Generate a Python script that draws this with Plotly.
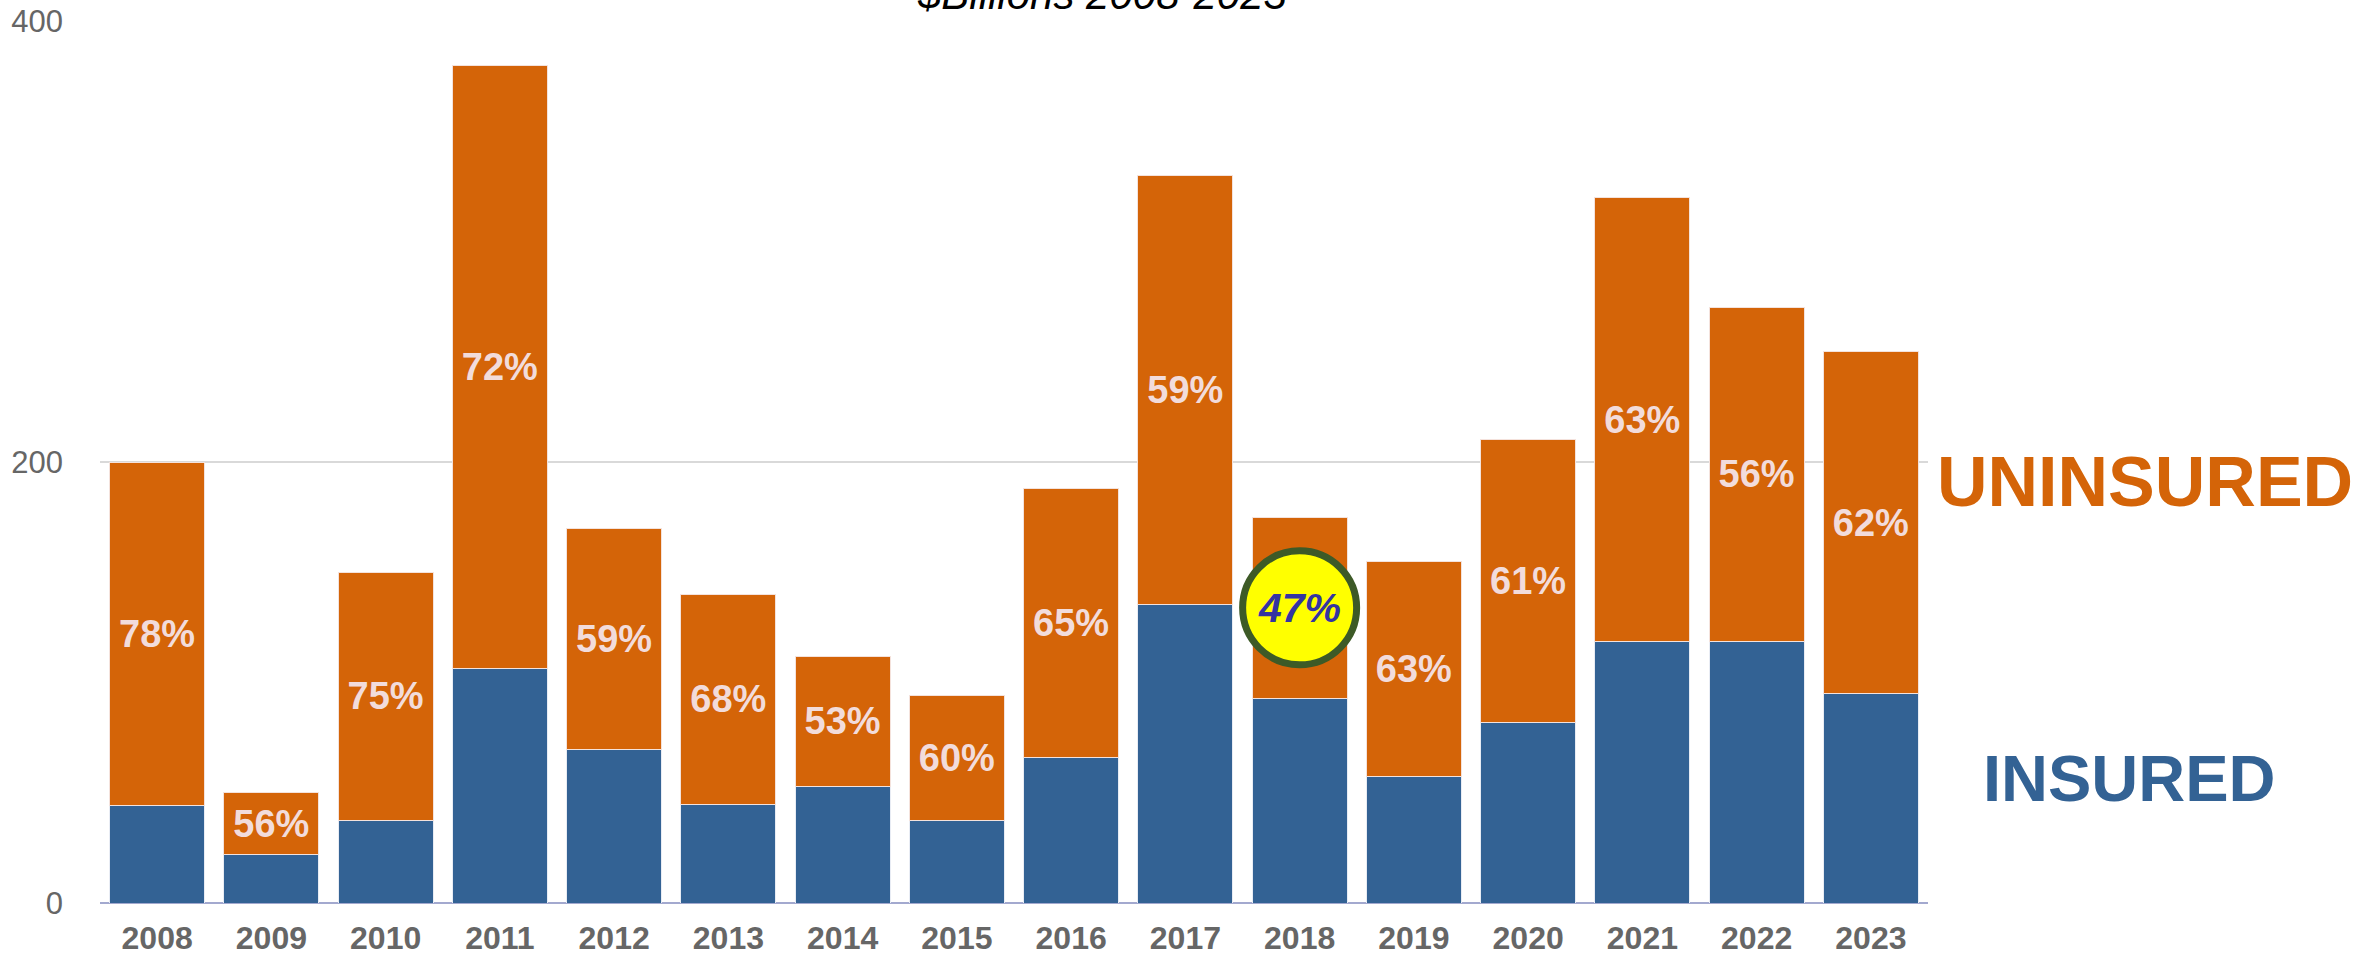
import plotly.graph_objects as go

years = ["2008", "2009", "2010", "2011", "2012", "2013", "2014", "2015",
         "2016", "2017", "2018", "2019", "2020", "2021", "2022", "2023"]
# Total economic losses, $ billions
total_losses = [200, 50, 150, 380, 170, 140, 112, 94,
                188, 330, 175, 155, 210, 320, 270, 250]
# Share of losses that was uninsured, %
uninsured_pct = [78, 56, 75, 72, 59, 68, 53, 60,
                 65, 59, 47, 63, 61, 63, 56, 62]
highlight_year = "2018"

insured = [t * (100 - p) / 100 for t, p in zip(total_losses, uninsured_pct)]
uninsured = [t * p / 100 for t, p in zip(total_losses, uninsured_pct)]

ORANGE = "#D46408"
BLUE = "#336294"
LABEL = "#F2DCDB"
FONT = "Liberation Sans, Arial, sans-serif"

bar_text = ["" if y == highlight_year else f"{p}%" for y, p in zip(years, uninsured_pct)]

fig = go.Figure()
fig.add_trace(go.Bar(
    x=years, y=insured, name="INSURED",
    marker=dict(color=BLUE, line=dict(color="#E8ECF4", width=1)),
    hoverinfo="skip",
))
fig.add_trace(go.Bar(
    x=years, y=uninsured, name="UNINSURED",
    marker=dict(color=ORANGE, line=dict(color="#F4E2DC", width=1)),
    text=bar_text, textposition="inside", insidetextanchor="middle",
    textangle=0, constraintext="none",
    textfont=dict(family=FONT, size=38, color=LABEL, weight="bold"),
    hoverinfo="skip",
))

# Highlight badge for the lowest uninsured share
hi = years.index(highlight_year)
badge_y = insured[hi] + uninsured[hi] / 2
fig.add_shape(
    type="circle", xref="x", yref="y",
    xsizemode="pixel", ysizemode="pixel",
    xanchor=hi, yanchor=badge_y,
    x0=-57, x1=57, y0=-57, y1=57,
    fillcolor="#FFFF00", line=dict(color="#3D5A27", width=7),
    layer="above",
)
fig.add_annotation(
    x=hi, y=badge_y, xref="x", yref="y",
    text=f"<b><i>{uninsured_pct[hi]}%</i></b>", showarrow=False,
    font=dict(family=FONT, size=41, color="#3434A2"),
    xanchor="center", yanchor="middle",
)

# Title (sits partly above the page edge)
fig.add_annotation(
    x=0.548, y=1.0295, xref="paper", yref="paper",
    text="<i>$Billions 2008-2023</i>", showarrow=False,
    font=dict(family=FONT, size=42, color="#000000"),
    xanchor="center", yanchor="middle",
)

# Series labels on the right
fig.add_annotation(
    x=1.1187, y=0.477, xref="paper", yref="paper",
    text="<b>UNINSURED</b>", showarrow=False,
    font=dict(family=FONT, size=70, color=ORANGE),
    xanchor="center", yanchor="middle",
)
fig.add_annotation(
    x=1.11, y=0.1406, xref="paper", yref="paper",
    text="<b>INSURED</b>", showarrow=False,
    font=dict(family=FONT, size=65, color=BLUE),
    xanchor="center", yanchor="middle",
)

fig.update_layout(
    barmode="stack", bargap=0.17,
    width=2353, height=957,
    margin=dict(l=100, r=425, t=21, b=54, autoexpand=False),
    paper_bgcolor="white", plot_bgcolor="white",
    showlegend=False,
    xaxis=dict(
        type="category", categoryorder="array", categoryarray=years,
        range=[-0.5, len(years) - 0.5],
        showgrid=False, showline=False, zeroline=False,
        tickfont=dict(family=FONT, size=32, color="#666666", weight="bold"),
        ticks="", ticklabelstandoff=13,
    ),
    yaxis=dict(
        range=[0, 400], tickvals=[0, 200, 400],
        showgrid=True, gridcolor="#D9D9D9", gridwidth=2,
        zeroline=True, zerolinecolor="#A3A9CF", zerolinewidth=2,
        showline=False, ticks="",
        tickfont=dict(family=FONT, size=31, color="#666666"),
        ticklabelstandoff=36,
    ),
)

fig.write_html("out.html")
